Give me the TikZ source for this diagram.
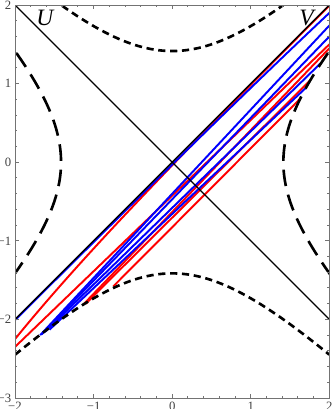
\documentclass[tikz,border=0pt]{standalone}
\usepackage{fontspec}
\setmainfont{Liberation Serif}
\begin{document}
\begin{tikzpicture}[x=1cm,y=1cm,
  framestyle/.style={draw=black!55, line width=0.35pt},
  ticklab/.style={font=\fontsize{4.6}{5}\selectfont, text=black!75, inner sep=0.6pt},
  hypS/.style={line width=0.95pt, dash pattern=on 2.6pt off 1.7pt},
  hypL/.style={line width=0.95pt, dash pattern=on 6pt off 3.2pt},
  rline/.style={red, line width=0.7pt},
  bline/.style={blue, line width=0.7pt},
  axline/.style={black, line width=0.5pt},
  biglab/.style={font=\fontsize{8.5}{9}\selectfont\itshape, inner sep=0pt}
]
\useasboundingbox (-2.191,-3.14) rectangle (2.051,2.064);
\begin{scope}
\clip (-2,-3) rectangle (2,2);
% trajectories hugging the diagonal
\draw[rline] plot[domain=-2:2, samples=60] (\x,{\x-0.25*exp(-0.92*(\x+2))});
\draw[bline] plot[domain=-2:2, samples=60] (\x,{\x-0.1*exp(0.6*(\x-2))});
% the bundle
\draw[rline] (-2,-2.35) -- (2,1.50);
\draw[bline] (-1.68,-2.20) -- (2,1.74);
\draw[bline] (-1.66,-2.19) -- (2,1.60);
\draw[rline] (-1.13,-1.81) -- (2,1.45);
\draw[bline] (-1.62,-2.16) -- (1.885,1.256);
\draw[rline] (-1.10,-1.80) -- (1.758,1.043);
\draw[bline] (-1.56,-2.13) -- (1.694,0.94);
\draw[rline] (-0.75,-1.58) -- (1.62,0.80);
\coordinate (ll) at (-2,-2);
\coordinate (ur) at (2,2);
\coordinate (ul) at (-2,2);
\coordinate (lr) at (2,-2);
\draw[axline] (ll) -- (ur);
\draw[axline] (ul) -- (lr);
\draw[hypS] plot[domain=-2:2, samples=80] (\x,{sqrt(2+\x*\x)});
\draw[hypS] plot[domain=-2:2, samples=80] (\x,{-sqrt(2+\x*\x)});
\draw[hypL] plot[domain=-1.45:1.45, samples=80] ({-sqrt(2+\x*\x)},\x);
\draw[hypL] plot[domain=-1.45:1.45, samples=80] ({sqrt(2+\x*\x)},\x);
\end{scope}
% frame and ticks
\draw[framestyle] (-2,-3) rectangle (2,2);
\foreach \t in {-2,-1.8,...,2.01} {
  \draw[framestyle] (\t,-3) -- ++(0,0.03);
  \draw[framestyle] (\t,2) -- ++(0,-0.03);
}
\foreach \t in {-2,-1,0,1,2} {
  \draw[framestyle] (\t,-3) -- ++(0,0.055);
  \draw[framestyle] (\t,2) -- ++(0,-0.055);
}
\foreach \t in {-3,-2.8,...,2.01} {
  \draw[framestyle] (-2,\t) -- ++(0.03,0);
  \draw[framestyle] (2,\t) -- ++(-0.03,0);
}
\foreach \t in {-3,-2,-1,0,1,2} {
  \draw[framestyle] (-2,\t) -- ++(0.055,0);
  \draw[framestyle] (2,\t) -- ++(-0.055,0);
}
\node[ticklab, anchor=north] (bx1) at (-2,-3.02) {−2};
\node[ticklab, anchor=north] (bx2) at (-1,-3.02) {−1};
\node[ticklab, anchor=north] (bx3) at (0,-3.02) {0};
\node[ticklab, anchor=north] (bx4) at (1,-3.02) {1};
\node[ticklab, anchor=north] (bx5) at (2,-3.02) {2};
\node[ticklab, anchor=east] (ly1) at (-2.02,2) {2};
\node[ticklab, anchor=east] (ly2) at (-2.02,1) {1};
\node[ticklab, anchor=east] (ly3) at (-2.02,0) {0};
\node[ticklab, anchor=east] (ly4) at (-2.02,-1) {−1};
\node[ticklab, anchor=east] (ly5) at (-2.02,-2) {−2};
\node[ticklab, anchor=east] (ly6) at (-2.02,-3) {−3};
\node[biglab] (U) at (-1.62,1.84) {U};
\node[biglab] (V) at (1.71,1.83) {V};
\end{tikzpicture}
\end{document}
